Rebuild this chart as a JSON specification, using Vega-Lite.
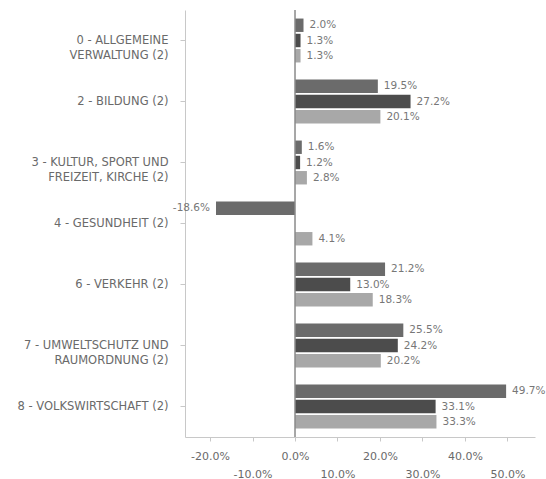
{
  "$schema": "https://vega.github.io/schema/vega-lite/v6.json",
  "autosize": "none",
  "width": 350,
  "height": 427,
  "padding": {"left": 185, "top": 10, "right": 11, "bottom": 42},
  "background": "white",
  "config": {
    "view": {"stroke": null},
    "font": "DejaVu Sans"
  },
  "data": {
    "values": [
      {"cat": "0 - ALLGEMEINE|VERWALTUNG (2)", "s": "a", "v": 0.020},
      {"cat": "0 - ALLGEMEINE|VERWALTUNG (2)", "s": "b", "v": 0.013},
      {"cat": "0 - ALLGEMEINE|VERWALTUNG (2)", "s": "c", "v": 0.013},
      {"cat": "2 - BILDUNG (2)", "s": "a", "v": 0.195},
      {"cat": "2 - BILDUNG (2)", "s": "b", "v": 0.272},
      {"cat": "2 - BILDUNG (2)", "s": "c", "v": 0.201},
      {"cat": "3 - KULTUR, SPORT UND|FREIZEIT, KIRCHE (2)", "s": "a", "v": 0.016},
      {"cat": "3 - KULTUR, SPORT UND|FREIZEIT, KIRCHE (2)", "s": "b", "v": 0.012},
      {"cat": "3 - KULTUR, SPORT UND|FREIZEIT, KIRCHE (2)", "s": "c", "v": 0.028},
      {"cat": "4 - GESUNDHEIT (2)", "s": "a", "v": -0.186},
      {"cat": "4 - GESUNDHEIT (2)", "s": "c", "v": 0.041},
      {"cat": "6 - VERKEHR (2)", "s": "a", "v": 0.212},
      {"cat": "6 - VERKEHR (2)", "s": "b", "v": 0.130},
      {"cat": "6 - VERKEHR (2)", "s": "c", "v": 0.183},
      {"cat": "7 - UMWELTSCHUTZ UND|RAUMORDNUNG (2)", "s": "a", "v": 0.255},
      {"cat": "7 - UMWELTSCHUTZ UND|RAUMORDNUNG (2)", "s": "b", "v": 0.242},
      {"cat": "7 - UMWELTSCHUTZ UND|RAUMORDNUNG (2)", "s": "c", "v": 0.202},
      {"cat": "8 - VOLKSWIRTSCHAFT (2)", "s": "a", "v": 0.497},
      {"cat": "8 - VOLKSWIRTSCHAFT (2)", "s": "b", "v": 0.331},
      {"cat": "8 - VOLKSWIRTSCHAFT (2)", "s": "c", "v": 0.333}
    ]
  },
  "transform": [
    {"calculate": "replace(format(datum.v, '.1%'), '\u2212', '-')", "as": "lbl"}
  ],
  "encoding": {
    "y": {
      "field": "cat",
      "type": "nominal",
      "sort": null,
      "scale": {"paddingInner": 0.28, "paddingOuter": 0.14},
      "axis": {
        "title": null,
        "labelExpr": "split(datum.label, '|')",
        "labelFont": "DejaVu Sans",
        "labelFontSize": 11.5,
        "labelColor": "#6a6a6a",
        "labelLineHeight": 15,
        "labelPadding": 12,
        "tickSize": 5,
        "tickColor": "#c8c8c8",
        "domainColor": "#c8c8c8",
        "labelLimit": 220
      }
    },
    "yOffset": {
      "field": "s",
      "type": "nominal",
      "scale": {"domain": ["a", "b", "c"], "paddingInner": 0.12}
    }
  },
  "layer": [
    {
      "mark": {"type": "bar"},
      "encoding": {
        "x": {
          "field": "v",
          "type": "quantitative",
          "scale": {"domain": [-0.259, 0.565], "nice": false, "zero": false},
          "axis": {
            "title": null,
            "values": [-0.2, -0.1, 0, 0.1, 0.2, 0.3, 0.4, 0.5],
            "format": ".1%",
            "labelExpr": "round(datum.value*10) % 2 == 0 ? replace(datum.label, '\u2212', '-') : ['', replace(datum.label, '\u2212', '-')]",
            "labelFont": "DejaVu Sans",
            "labelFontSize": 11,
            "labelColor": "#6a6a6a",
            "labelLineHeight": 18,
            "labelPadding": 9,
            "tickSize": 4,
            "tickColor": "#c8c8c8",
            "domainColor": "#c8c8c8",
            "grid": false
          }
        },
        "color": {
          "field": "s",
          "type": "nominal",
          "scale": {"domain": ["a", "b", "c"], "range": ["#6b6b6b", "#4c4c4c", "#a8a8a8"]},
          "legend": null
        }
      }
    },
    {
      "transform": [{"filter": "datum.v >= 0"}],
      "mark": {"type": "text", "align": "left", "baseline": "middle", "dx": 6, "font": "DejaVu Sans", "fontSize": 10.5, "color": "#777777"},
      "encoding": {
        "x": {"field": "v", "type": "quantitative"},
        "text": {"field": "lbl", "type": "nominal"}
      }
    },
    {
      "transform": [{"filter": "datum.v < 0"}],
      "mark": {"type": "text", "align": "right", "baseline": "middle", "dx": -6, "font": "DejaVu Sans", "fontSize": 10.5, "color": "#777777"},
      "encoding": {
        "x": {"field": "v", "type": "quantitative"},
        "text": {"field": "lbl", "type": "nominal"}
      }
    },
    {
      "data": {"values": [{"z": 0}]},
      "mark": {"type": "rule", "color": "#8a8a8a", "strokeWidth": 1.5},
      "encoding": {
        "x": {"field": "z", "type": "quantitative"},
        "y": {"value": 0},
        "y2": {"value": 427}
      }
    }
  ]
}
